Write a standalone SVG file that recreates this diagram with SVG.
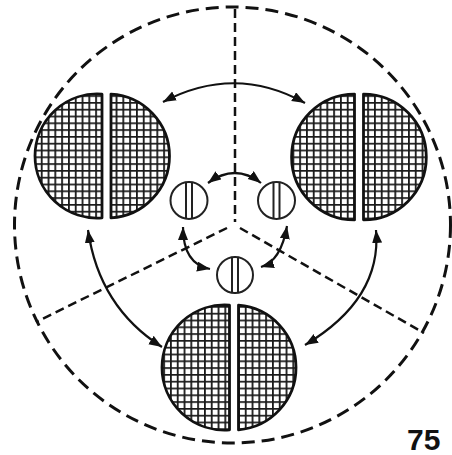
<svg xmlns="http://www.w3.org/2000/svg" width="452" height="455" viewBox="0 0 452 455">
<style>
.outer{fill:none;stroke:#111;stroke-width:3;stroke-dasharray:13 7}
.radial{fill:none;stroke:#111;stroke-width:2.5;stroke-dasharray:9 5}
.half{fill:url(#hatch);stroke:#111;stroke-width:2.8;stroke-linejoin:round}
.small{fill:none;stroke:#222;stroke-width:2}
.arrow{fill:none;stroke:#111;stroke-width:2.2;marker-start:url(#ah);marker-end:url(#ah)}
.num{font-family:"Liberation Sans",Arial,sans-serif;font-weight:bold;font-size:30px;fill:#111}
</style>
<defs>
<pattern id="hatch" patternUnits="userSpaceOnUse" width="6.8" height="6.8">
<rect width="6.8" height="6.8" fill="#fff"/>
<path d="M0.9,0V6.8M0,0.9H6.8" stroke="#1a1a1a" stroke-width="1.8"/>
</pattern>
<marker id="ah" markerUnits="userSpaceOnUse" markerWidth="14" markerHeight="11" refX="13" refY="5" orient="auto-start-reverse">
<path d="M0,0L13,5L0,10z" fill="#111"/>
</marker>
</defs>
<rect width="452" height="455" fill="#fff"/>
<g id="boundary">
<circle class="outer" cx="232.5" cy="225" r="218"/>
<path class="radial" d="M235,9V222"/>
<path class="radial" d="M227,228L36,322"/>
<path class="radial" d="M240,228L424,333"/>
</g>
<g id="large-top-left">
<path class="half" d="M102,94.2A62,62 0 1,0 102,217.8Z"/>
<path class="half" d="M111,94.1A62,62 0 0,1 111,217.9Z"/>
</g>
<g id="large-top-right">
<path class="half" d="M354.5,94.1A62.5,62.5 0 1,0 354.5,219.9Z"/>
<path class="half" d="M363.5,94.2A62.5,62.5 0 0,1 363.5,219.8Z"/>
</g>
<g id="large-bottom">
<path class="half" d="M229.5,305.2A62.5,62.5 0 1,0 229.5,429.8Z"/>
<path class="half" d="M238.5,305.2A62.5,62.5 0 0,1 238.5,429.8Z"/>
</g>
<g id="small-left">
<circle class="small" cx="189" cy="200.5" r="18.5"/>
<path class="small" d="M186,182.2V218.8M192,182.2V218.8"/>
</g>
<g id="small-right">
<circle class="small" cx="276.5" cy="200.5" r="18.5"/>
<path class="small" d="M273.5,182.2V218.8M279.5,182.2V218.8"/>
</g>
<g id="small-bottom">
<circle class="small" cx="235" cy="275" r="18"/>
<path class="small" d="M232,257.3V292.7M238,257.3V292.7"/>
</g>
<g id="connectors">
<path class="arrow" d="M163,102Q235,64 305,103"/>
<path class="arrow" d="M208,183Q235,163 261,183"/>
<path class="arrow" d="M183,227Q183,264 210,269"/>
<path class="arrow" d="M287,226Q281,261 261,267"/>
<path class="arrow" d="M88,230Q99,307 162,347"/>
<path class="arrow" d="M376,230Q382,299 305,345"/>
</g>
<text class="num" x="407" y="450">75</text>
</svg>
